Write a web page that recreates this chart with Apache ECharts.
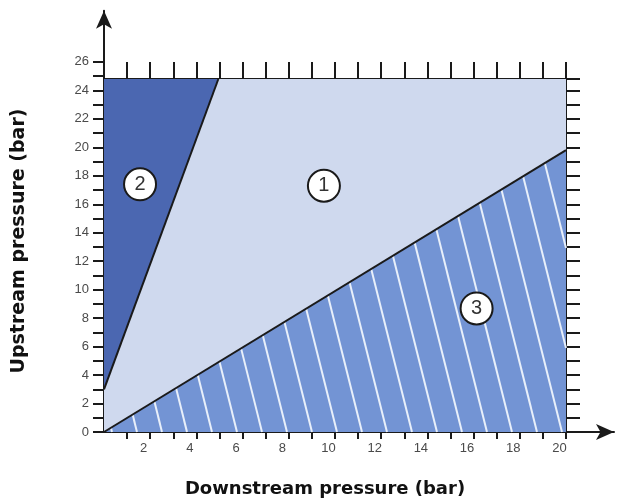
<!DOCTYPE html>
<html>
<head>
<meta charset="utf-8">
<script src="https://cdn.jsdelivr.net/npm/echarts@6/dist/echarts.min.js"></script>
<style>
html,body{margin:0;padding:0;background:#fff;}
#chart{width:625px;height:498px;}
</style>
</head>
<body>
<div id="chart"></div>
<script>
// ---- data ----
const xTickValues = [1,2,3,4,5,6,7,8,9,10,11,12,13,14,15,16,17,18,19,20];
const xLabelValues = [2,4,6,8,10,12,14,16,18,20];
const yTickValues = [0,1,2,3,4,5,6,7,8,9,10,11,12,13,14,15,16,17,18,19,20,21,22,23,24,25,26];
const yLabelValues = [0,2,4,6,8,10,12,14,16,18,20,22,24,26];
const rightTickValues = [1,2,3,4,5,6,7,8,9,10,11,12,13,14,15,16,17,18,19,20,21,22,23,24,24.8];
const boxTop = 24.8;
const boxRight = 20;
const region1 = [[0,3],[4.95,24.8],[20,24.8],[20,19.8],[0,0]];
const region2 = [[0,3],[0,24.8],[4.95,24.8]];
const region3 = [[0,0],[20,19.8],[20,0]];
const lineA = [[0,3],[4.95,24.8]];
const lineB = [[0,0],[20,19.8]];
const markers = [
  {name:'1', value:[9.52,17.3]},
  {name:'2', value:[1.56,17.4]},
  {name:'3', value:[16.13,8.68]}
];
const xTitle = 'Downstream pressure (bar)';
const yTitle = 'Upstream pressure (bar)';

// ---- style ----
const C_DARK = '#4b67b1';
const C_LIGHT = '#cfd9ee';
const C_MID = '#7394d4';
const C_HATCH = '#e8effa';
const C_AXIS = '#1a1a1a';

const chart = echarts.init(document.getElementById('chart'));

function cross(a,b){return a[0]*b[1]-a[1]*b[0];}
function clipLine(P,d,poly){
  const ts=[];
  for(let i=0;i<poly.length;i++){
    const A=poly[i],B=poly[(i+1)%poly.length];
    const e=[B[0]-A[0],B[1]-A[1]];
    const den=cross(d,e);
    if(Math.abs(den)<1e-9) continue;
    const w=[A[0]-P[0],A[1]-P[1]];
    const t=cross(w,e)/den;
    const s=cross(w,d)/den;
    if(s>=-1e-6 && s<=1+1e-6) ts.push(t);
  }
  if(ts.length<2) return null;
  return [Math.min(...ts),Math.max(...ts)];
}

function renderRegion(params, api){
  const idx = params.dataIndex;
  const poly = [region1, region2][idx];
  const pts = poly.map(p=>api.coord(p));
  return {type:'polygon', shape:{points:pts}, style:{fill: idx===0?C_LIGHT:C_DARK, stroke:null}};
}
function renderHatch(params, api){
  const pts = region3.map(p=>api.coord(p));
  const o = api.coord([0,0]);
  const children=[{type:'polygon', shape:{points:pts}, style:{fill:C_MID, stroke:null}}];
  const d=[-0.25,-1];
  for(let k=-3;k<40;k++){
    const P=[o[0]+33+25*k, o[1]];
    const r=clipLine(P,d,pts);
    if(!r) continue;
    children.push({type:'line', shape:{x1:P[0]+d[0]*r[0], y1:P[1]+d[1]*r[0], x2:P[0]+d[0]*r[1], y2:P[1]+d[1]*r[1]},
      style:{stroke:C_HATCH, lineWidth:2}});
  }
  return {type:'group', children};
}

const unitY = (432-79)/boxTop;
const labelFont = {color:'#4a4a4a', fontSize:13, fontFamily:'Liberation Sans, Arial, sans-serif'};
const option = {
  backgroundColor:'#fff',
  animation:false,
  grid:[
    {left:104, right:11, top:432-29.6*unitY, bottom:66},
    {left:104, right:59, top:79, bottom:66}
  ],
  xAxis:[
    {gridIndex:0, type:'value', min:0, max:22.08,
     axisLine:{show:true, onZero:false, symbol:['none','arrow'], symbolSize:[12,18], lineStyle:{color:C_AXIS,width:2}},
     axisTick:{show:true, customValues:xTickValues, length:7, lineStyle:{color:C_AXIS,width:2}},
     axisLabel:Object.assign({show:true, customValues:xLabelValues, margin:10, padding:[0,13,0,0]}, labelFont),
     splitLine:{show:false}},
    {gridIndex:1, type:'value', min:0, max:boxRight, position:'top',
     axisLine:{show:true, onZero:false, lineStyle:{color:C_AXIS,width:2}},
     axisTick:{show:true, customValues:xTickValues, length:17, lineStyle:{color:C_AXIS,width:2}},
     axisLabel:{show:false}, splitLine:{show:false}}
  ],
  yAxis:[
    {gridIndex:0, type:'value', min:0, max:29.6,
     axisLine:{show:true, onZero:false, symbol:['none','arrow'], symbolSize:[12,18], lineStyle:{color:C_AXIS,width:2}},
     axisTick:{show:true, customValues:yTickValues, length:11, lineStyle:{color:C_AXIS,width:2}},
     axisLabel:Object.assign({show:true, customValues:yLabelValues, margin:15}, labelFont),
     splitLine:{show:false}},
    {gridIndex:1, type:'value', min:0, max:boxTop, position:'right',
     axisLine:{show:true, onZero:false, lineStyle:{color:C_AXIS,width:2}},
     axisTick:{show:true, customValues:rightTickValues, length:14, lineStyle:{color:C_AXIS,width:2}},
     axisLabel:{show:false}, splitLine:{show:false}}
  ],
  series:[
    {type:'custom', xAxisIndex:1, yAxisIndex:1, renderItem:renderRegion, data:[[0],[1]], z:1, silent:true, clip:false},
    {type:'custom', xAxisIndex:1, yAxisIndex:1, renderItem:renderHatch, data:[[0]], z:1, silent:true, clip:false},
    {type:'line', xAxisIndex:1, yAxisIndex:1, data:lineA, symbol:'none', lineStyle:{color:C_AXIS,width:2}, z:3},
    {type:'line', xAxisIndex:1, yAxisIndex:1, data:lineB, symbol:'none', lineStyle:{color:C_AXIS,width:2}, z:3},
    {type:'scatter', xAxisIndex:1, yAxisIndex:1, data:markers, symbol:'circle', symbolSize:32, z:5,
     itemStyle:{color:'#fff', borderColor:C_AXIS, borderWidth:2, opacity:1},
     label:{show:true, position:'inside', formatter:p=>p.name, color:'#333', fontSize:20, fontFamily:'Liberation Sans, Arial, sans-serif'}}
  ],
  graphic:[
    {type:'text', x:325, y:480, style:{text:xTitle, font:'bold 18px "DejaVu Sans", sans-serif', fill:'#111', textAlign:'center', textVerticalAlign:'top'}},
    {type:'text', x:10, y:241, rotation:Math.PI/2, style:{text:yTitle, font:'bold 19px "DejaVu Sans", sans-serif', fill:'#111', textAlign:'center', textVerticalAlign:'top'}}
  ]
};
chart.setOption(option);
</script>
</body>
</html>
